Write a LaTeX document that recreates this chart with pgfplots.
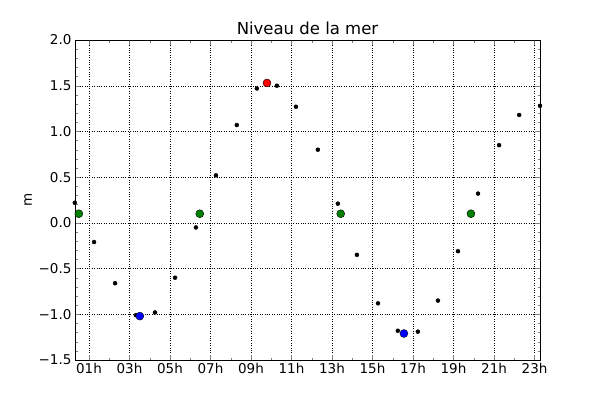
\documentclass[border=0pt]{standalone}
\usepackage{pgfplots}
\pgfplotsset{compat=1.18}
\usepackage{fontspec}
\setmainfont{DejaVu Sans}
\begin{document}
\begin{tikzpicture}[x=1pt,y=1pt]
\useasboundingbox (-75,-40) rectangle (525,360);
\begin{axis}[at={(0,0)},anchor=south west,scale only axis,width=465pt,height=320pt,
xmin=0.31,xmax=23.27,ymin=-1.5,ymax=2.0,
xtick={1,3,...,23},xticklabels={01h,03h,05h,07h,09h,11h,13h,15h,17h,19h,21h,23h},
ytick={-1.5,-1,...,2},yticklabels={−1.5,−1.0,−0.5,0.0,0.5,1.0,1.5,2.0},
minor x tick num=1, minor y tick num=4,
tick align=inside, major tick length=5pt, minor tick length=2.5pt,
grid=major, grid style={black,dotted},
/pgf/number format/assume math mode=true,
tick label style={font=\fontsize{13.5}{15}\selectfont},
title={\fontsize{16.5}{18}\selectfont Niveau de la mer},
title style={yshift=-4pt},
ylabel={\fontsize{13.5}{15}\selectfont m},
clip=false]
\addplot[only marks,mark=*,mark size=2pt,black] coordinates {
(0.3,0.22)(1.25,-0.21)(2.29,-0.66)(3.32,-1.01)(4.26,-0.98)(5.25,-0.6)(6.28,-0.05)(7.27,0.52)(8.3,1.07)(9.29,1.47)(10.28,1.5)(11.22,1.27)(12.3,0.8)(13.29,0.21)(14.23,-0.35)(15.27,-0.88)(16.25,-1.18)(17.24,-1.19)(18.23,-0.85)(19.22,-0.31)(20.21,0.32)(21.25,0.85)(22.24,1.18)(23.27,1.28)};
\addplot[only marks,mark=*,mark size=4pt,draw=black,fill={rgb,255:red,0;green,128;blue,0}] coordinates {(0.5,0.1)(6.47,0.1)(13.43,0.1)(19.86,0.1)};
\addplot[only marks,mark=*,mark size=4pt,draw=black,fill=blue] coordinates {(3.51,-1.02)(16.55,-1.21)};
\addplot[only marks,mark=*,mark size=4pt,draw=black,fill=red] coordinates {(9.79,1.53)};
\end{axis}
\end{tikzpicture}
\end{document}
